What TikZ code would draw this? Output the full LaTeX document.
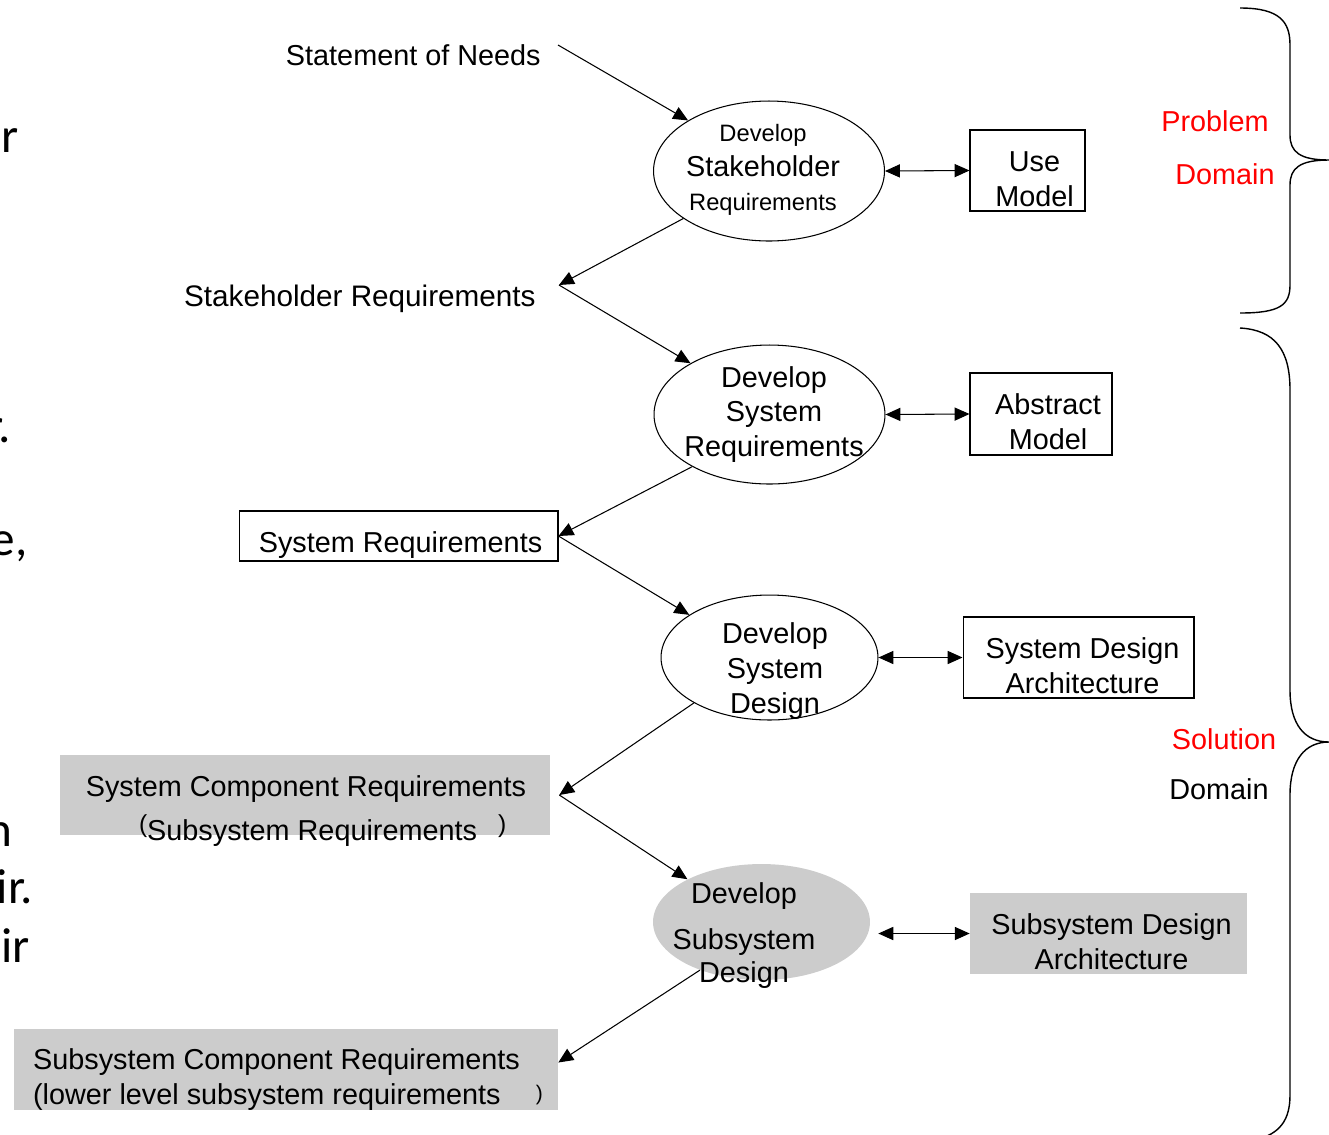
\documentclass[tikz,border=0pt]{standalone}
\usepackage{fontspec}
\setmainfont{Liberation Sans}
\newfontfamily\slidefont{Carlito}
\usetikzlibrary{arrows.meta,shapes.geometric,calc,positioning}
\definecolor{boxgray}{RGB}{204,204,204}

\begin{document}
\begin{tikzpicture}[x=0.02cm,y=-0.02cm]
	\tikzstyle{every node}=[font=\fontsize{16.4}{19.8}\selectfont, inner sep=0pt]
	\tikzstyle{proc}=[ellipse, draw, line width=0.6pt]
	\tikzstyle{procgray}=[ellipse, fill=boxgray]
	\tikzstyle{model}=[rectangle, draw, line width=0.6pt]
	\tikzstyle{modelgray}=[rectangle, fill=boxgray]
	\tikzstyle{flow}=[line width=0.6pt, ->, >={Triangle[length=8.5pt,width=7.5pt]}]
	\tikzstyle{link}=[line width=0.6pt, <->, >={Triangle[length=8.5pt,width=7.5pt]}]
	\tikzstyle{brace}=[line width=0.8pt]
	\tikzstyle{slide}=[font=\slidefont\fontsize{28}{34}\selectfont, anchor=base east]
	\useasboundingbox (0,0) rectangle (1329,1134);

	% cut-off text of the slide on the left
	\node [slide] (f1) at (19,152) {ir};
	\node [slide] (f2) at (11,442) {r.};
	\node [slide] (f3) at (28,555) {e,};
	\node [slide] (f4) at (13,846) {n};
	\node [slide] (f5) at (33,903) {ir.};
	\node [slide] (f6) at (30,962) {eir};

	% processes
	\node [proc, minimum width=4.62cm, minimum height=2.8cm] (e1) at (769,171) {};
	\node [proc, minimum width=4.62cm, minimum height=2.78cm] (e2) at (769.5,414.5) {};
	\node [proc, minimum width=4.34cm, minimum height=2.5cm] (e3) at (769.5,657.5) {};
	\node [procgray, minimum width=4.34cm, minimum height=2.32cm] (e4) at (761.5,922) {};
	\node [align=center] (e1t) at (763,170) {{\fontsize{13.5}{19.8}\selectfont Develop}\\Stakeholder\\{\fontsize{13.5}{19.8}\selectfont Requirements}};
	\node [align=center] (e2t) at (774,414.5) {Develop\\System\\Requirements};
	\node [align=center] (e3t) at (775,671) {Develop\\System\\Design};
	\node [align=center] (e4t) at (744,935.5) {Develop\\[6pt]Subsystem\\[-1pt]Design};

	% models
	\node [model, minimum width=2.3cm, minimum height=1.62cm] (um) at (1027.5,170.5) {};
	\node [model, minimum width=2.84cm, minimum height=1.64cm] (am) at (1041,414) {};
	\node [model, minimum width=4.62cm, minimum height=1.62cm] (sda) at (1078.5,657.5) {};
	\node [modelgray, minimum width=5.54cm, minimum height=1.62cm] (subda) at (1108.5,933.5) {};
	\node [align=center] (umt) at ([shift={(7,9)}]um.center) {Use\\Model};
	\node [align=center] (amt) at ([shift={(7,8)}]am.center) {Abstract\\Model};
	\node [align=center] (sdat) at ([shift={(4,8)}]sda.center) {System Design\\Architecture};
	\node [align=center] (subdat) at ([shift={(3,8)}]subda.center) {Subsystem Design\\Architecture};

	% requirements
	\node [anchor=east] (needs) at (541,55) {Statement of Needs};
	\node [anchor=east, font=\fontsize{16.9}{20.4}\selectfont] (shr) at (536,299) {Stakeholder Requirements};
	\node [model, minimum width=6.38cm, minimum height=1cm] (sysreq) at (398.5,536) {};
	\node (sysreqt) at ([shift={(2,9)}]sysreq.center) {System Requirements};
	\node [modelgray, minimum width=9.8cm, minimum height=1.6cm] (scr) at (305,795) {};
	\node [align=center] (scrt) at (306,811) {System Component Requirements\\[5.7pt]\hspace*{19pt}\raisebox{5pt}{\fontsize{14}{14}\selectfont(}Subsystem Requirements\hspace{12pt}\raisebox{5pt}{\fontsize{14}{14}\selectfont)}};
	\node [modelgray, minimum width=10.88cm, minimum height=1.62cm] (subcr) at (286,1069.5) {};
	\node [align=left] (subcrt) at ([shift={(2,10)}]subcr.center) {Subsystem Component Requirements\\(lower level subsystem requirements\hspace{20pt}\raisebox{2pt}{\fontsize{12}{12}\selectfont)}};

	% domains
	\node [text=red] (prob) at (1215,121) {Problem};
	\node [text=red] (pdom) at (1225,174) {Domain};
	\node [text=red] (sol) at (1224,739) {Solution};
	\node (sdom) at (1219,789) {Domain};

	% flow down the chain
	\coordinate (n0) at ([shift={(17,-10)}]needs.east);
	\coordinate (sr) at ([shift={(23,-14)}]shr.east);
	\draw [flow] (n0) -- (e1.148);
	\draw [flow] (e1.209) -- (sr);
	\draw [flow] (sr) -- (e2.147);
	\draw [flow] (e2.214) -- (sysreq.east);
	\draw [flow] (sysreq.east) -- (e3.152);
	\draw [flow] (e3.211) -- ([xshift=0.18cm]scr.east);
	\draw [flow] ([xshift=0.18cm]scr.east) -- (e4.150);
	\draw [flow] (e4.218) -- ([yshift=0.14cm]subcr.east);

	% process <-> model
	\draw [link] (e1.east) -- (um.west);
	\draw [link] (e2.east) -- (am.west);
	\draw [link] (e3.east) -- (sda.west);
	\draw [link] ($(e4.east |- subda.west)+(8,0)$) -- (subda.west);

	% braces
	\draw [brace] (1240,8) .. controls (1280,8) and (1290,22) .. (1290,45) -- (1290,135) .. controls (1290,152) and (1300,160) .. (1329,160) .. controls (1300,160) and (1290,168) .. (1290,185) -- (1290,285) .. controls (1290,305) and (1280,313) .. (1240,313);
	\draw [brace] (1240,328) .. controls (1275,330) and (1290,350) .. (1290,390) -- (1290,690) .. controls (1290,725) and (1305,742) .. (1329,742) .. controls (1305,742) and (1290,760) .. (1290,795) -- (1290,1095) .. controls (1290,1120) and (1280,1134) .. (1255,1140);
\end{tikzpicture}
\end{document}
